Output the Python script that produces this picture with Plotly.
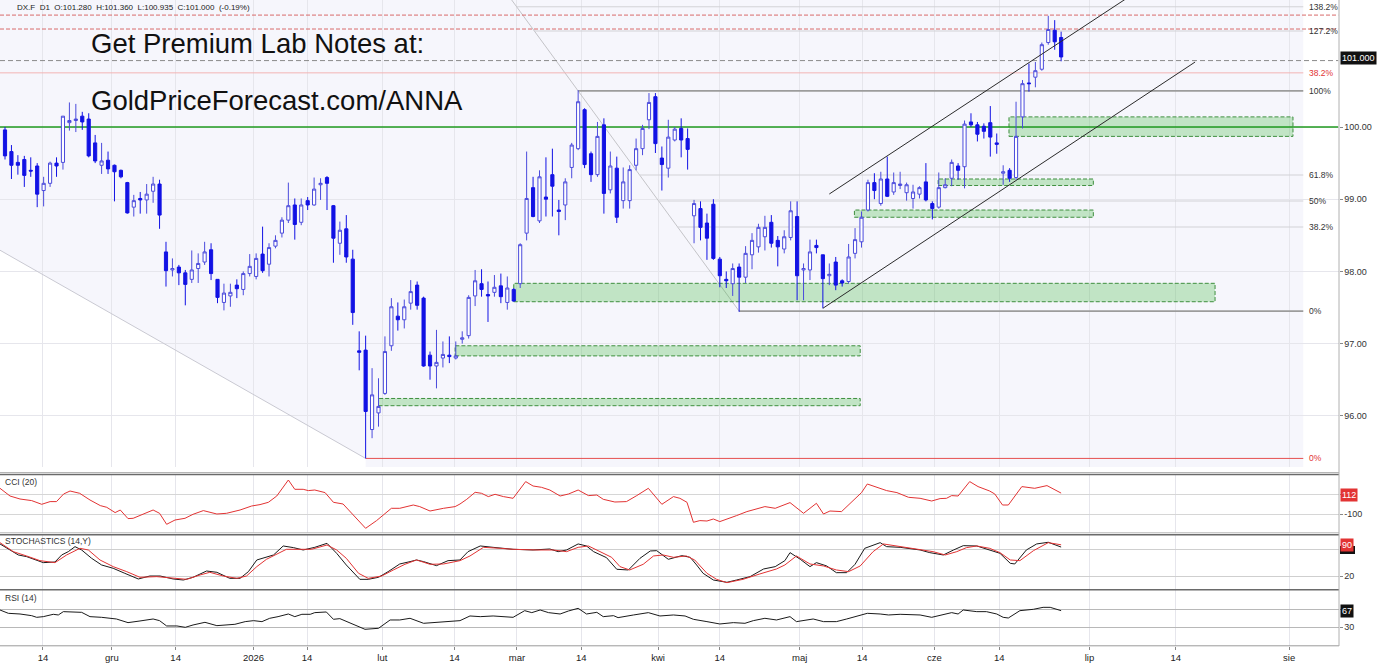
import plotly.graph_objects as go

W, H = 1387, 663

# ---------------- price data (DX.F, D1) ----------------
opens = [99.96, 99.66, 99.51, 99.55, 99.40, 99.46, 99.12, 99.22, 99.50, 99.51,
         100.06, 100.09, 100.15, 100.11, 99.78, 99.47, 99.54, 99.47, 99.40, 99.23,
         98.89, 99.01, 98.99, 99.11, 99.21, 98.27, 98.02, 98.06, 97.98, 97.89,
         98.04, 98.13, 98.30, 97.89, 97.57, 97.66, 97.81, 97.75, 97.97, 97.93,
         98.24, 98.10, 98.35, 98.53, 98.71, 98.92, 98.68, 98.98, 98.92, 99.20,
         99.30, 98.91, 98.39, 98.59, 98.17, 96.90, 96.91, 95.81, 96.04, 96.31,
         96.97, 97.38, 97.33, 97.56, 97.81, 97.63, 96.84, 96.69, 96.80, 96.84,
         96.80, 97.06, 97.11, 97.66, 97.83, 97.68, 97.71, 97.80, 97.57, 97.75,
         97.83, 98.53, 99.16, 98.70, 99.03, 99.34, 98.85, 98.92, 99.44, 99.70,
         100.24, 99.63, 99.34, 100.03, 99.13, 99.43, 98.98, 98.98, 99.47, 99.70,
         100.10, 100.42, 99.57, 99.43, 99.82, 99.98, 99.84, 98.77, 98.87, 98.67,
         98.93, 98.17, 97.89, 97.83, 98.06, 97.92, 98.23, 98.34, 98.48, 98.68,
         98.43, 98.31, 98.47, 98.76, 98.02, 98.02, 98.36, 98.23, 97.94, 98.13,
         97.87, 97.86, 98.25, 98.41, 98.85, 99.23, 98.94, 99.28, 99.10, 99.19,
         99.09, 99.01, 99.07, 99.24, 98.94, 98.89, 99.16, 99.29, 99.46, 99.45,
         100.07, 100.03, 100.01, 100.06, 99.78, 99.36, 99.40, 99.30, 100.14, 100.61,
         100.69, 100.80, 101.17, 101.34, 101.24]
highs = [100.00, 99.75, 99.61, 99.60, 99.58, 99.50, 99.31, 99.52, 99.58, 100.15,
         100.34, 100.32, 100.21, 100.19, 99.89, 99.78, 99.66, 99.48, 99.41, 99.24,
         99.06, 99.10, 99.21, 99.31, 99.27, 98.41, 98.18, 98.09, 98.02, 98.29,
         98.25, 98.41, 98.39, 97.89, 97.83, 97.83, 97.89, 98.00, 98.24, 98.25,
         98.62, 98.39, 98.50, 98.75, 99.23, 99.01, 99.01, 99.03, 99.30, 99.29,
         99.32, 98.92, 98.69, 98.78, 98.30, 97.17, 97.11, 96.66, 96.52, 97.10,
         97.63, 97.57, 97.61, 97.88, 97.86, 97.65, 96.89, 97.19, 97.03, 97.10,
         97.03, 97.17, 97.67, 98.02, 98.03, 97.86, 97.95, 97.97, 97.93, 97.77,
         98.39, 99.66, 99.31, 99.40, 99.58, 99.70, 98.99, 99.29, 99.78, 100.51,
         100.26, 99.66, 100.07, 100.12, 99.66, 99.59, 99.44, 99.47, 99.84, 100.03,
         100.47, 100.47, 99.73, 100.10, 100.00, 100.12, 99.98, 98.99, 98.97, 98.80,
         99.00, 98.20, 98.00, 98.11, 98.11, 98.35, 98.53, 98.66, 98.77, 98.78,
         98.49, 98.57, 98.97, 98.97, 98.11, 98.44, 98.44, 98.23, 98.11, 98.20,
         97.89, 98.38, 98.60, 98.83, 99.27, 99.36, 99.38, 99.59, 99.37, 99.38,
         99.23, 99.20, 99.18, 99.50, 98.97, 99.37, 99.29, 99.55, 99.50, 100.09,
         100.19, 100.07, 100.05, 100.29, 99.91, 99.47, 99.43, 100.35, 100.65, 100.88,
         100.90, 101.17, 101.54, 101.48, 101.32]
lows = [99.55, 99.28, 99.34, 99.17, 99.31, 98.89, 98.90, 99.17, 99.31, 99.41,
        99.95, 99.93, 99.96, 99.58, 99.50, 99.35, 99.35, 98.97, 99.29, 98.80,
        98.76, 98.80, 98.80, 98.95, 98.59, 97.79, 97.93, 97.81, 97.53, 97.84,
        97.84, 98.09, 97.88, 97.56, 97.46, 97.51, 97.63, 97.67, 97.93, 97.89,
        97.98, 97.93, 98.32, 98.47, 98.67, 98.44, 98.64, 98.85, 98.91, 98.99,
        98.85, 98.12, 98.23, 98.12, 97.26, 96.63, 95.41, 95.69, 95.85, 96.29,
        96.90, 97.18, 97.21, 97.47, 97.47, 96.68, 96.50, 96.38, 96.67, 96.73,
        96.78, 97.00, 97.07, 97.52, 97.65, 97.30, 97.65, 97.56, 97.47, 97.58,
        97.77, 98.43, 98.75, 98.67, 98.76, 98.76, 98.50, 98.71, 99.29, 99.68,
        99.43, 99.24, 99.31, 98.80, 99.08, 98.67, 98.87, 98.87, 99.40, 99.61,
        99.97, 99.64, 99.12, 99.30, 99.80, 99.58, 99.41, 98.39, 98.43, 98.16,
        98.16, 97.78, 97.77, 97.66, 97.44, 97.84, 98.03, 98.26, 98.29, 98.33,
        98.07, 98.25, 98.43, 97.60, 97.60, 97.88, 98.25, 97.49, 97.81, 97.74,
        97.79, 97.83, 98.18, 98.33, 98.83, 99.00, 98.91, 99.03, 99.06, 99.14,
        98.98, 98.87, 99.01, 98.97, 98.72, 98.87, 99.15, 99.18, 99.27, 99.15,
        100.00, 99.80, 99.84, 99.59, 99.63, 99.20, 99.24, 99.27, 99.98, 100.49,
        100.55, 100.78, 101.14, 101.07, 100.91]
closes = [99.60, 99.47, 99.47, 99.33, 99.39, 99.07, 99.22, 99.50, 99.46, 100.15,
          100.09, 100.11, 100.07, 99.60, 99.53, 99.53, 99.42, 99.38, 99.31, 98.81,
          98.98, 98.99, 99.07, 99.21, 98.78, 98.01, 98.04, 97.98, 97.82, 98.02,
          98.11, 98.27, 97.97, 97.64, 97.70, 97.71, 97.76, 97.97, 98.07, 98.18,
          98.01, 98.33, 98.43, 98.71, 98.91, 98.65, 98.92, 98.92, 99.14, 99.22,
          99.22, 98.46, 98.57, 98.20, 97.43, 96.88, 96.06, 96.29, 96.13, 96.89,
          97.51, 97.33, 97.51, 97.72, 97.53, 96.69, 96.69, 96.74, 96.85, 96.82,
          96.83, 97.08, 97.64, 97.87, 97.75, 97.66, 97.78, 97.65, 97.77, 97.59,
          98.37, 99.01, 98.76, 99.31, 99.00, 99.18, 98.83, 99.24, 99.75, 100.35,
          99.48, 99.34, 99.87, 99.08, 99.46, 98.75, 99.24, 99.41, 99.70, 99.98,
          100.34, 99.77, 99.48, 99.86, 99.97, 99.82, 99.69, 98.94, 98.61, 98.46,
          98.18, 97.94, 97.87, 98.04, 97.92, 98.25, 98.43, 98.61, 98.61, 98.39,
          98.34, 98.48, 98.84, 97.94, 98.04, 98.27, 98.33, 97.90, 97.96, 97.81,
          97.84, 98.20, 98.44, 98.75, 99.23, 99.12, 99.28, 99.04, 99.23, 99.21,
          99.20, 99.10, 99.16, 98.99, 98.87, 99.16, 99.20, 99.51, 99.40, 100.04,
          100.03, 99.90, 99.94, 99.86, 99.76, 99.38, 99.29, 99.87, 100.60, 100.60,
          100.78, 101.14, 101.35, 101.18, 100.97]
bar_index = list(range(len(opens)))

header_text = "DX.F  D1  O:101.280  H:101.360  L:100.935  C:101.000  (-0.19%)"
promo_lines = ["Get Premium Lab Notes at:", "GoldPriceForecast.com/ANNA"]

# time axis ticks (bar-index positions; later ones fall in the empty future area)
tick_pos = [5.9, 16.6, 26.5, 38.6, 46.9, 58.6, 69.8, 79.5, 89.5, 101.4,
            111.0, 123.4, 133.1, 144.3, 154.4, 168.4, 181.8, 199.4]
tick_text = ["14", "gru", "14", "2026", "14", "lut", "14", "mar", "14", "kwi",
             "14", "maj", "14", "cze", "14", "lip", "14", "sie"]
price_ticks = [96, 97, 98, 99, 100]
price_tick_text = ["96.00", "97.00", "98.00", "99.00", "100.00"]

# Fibonacci retracement (grey) between swing high and swing low
fib_hi, fib_hi_idx = 100.50, 89
fib_lo, fib_lo_idx = 97.45, 114
fib_ratios = [0.0, 0.382, 0.5, 0.618, 1.0, 1.272, 1.382]
fib_labels = ["0%", "38.2%", "50%", "61.8%", "100%", "127.2%", "138.2%"]
fib_end_idx = 201.6

# red (long-term) Fibonacci levels
red_fib_levels = [95.41, 100.75]
red_fib_labels = ["0%", "38.2%"]
red_fib_start = [56, -1]
red_trend = [(-20, 99.27), (56, 95.41)]

red_dashed_levels = [101.55, 101.357]
support_level = 100.00
last_level = 100.92
last_label = "101.000"

# green support / resistance zones
zone_x0 = [155.9, 144.9, 131.9, 79.0, 69.9, 58.0]
zone_x1 = [200.0, 169.0, 169.0, 187.9, 132.8, 132.8]
zone_lo = [99.87, 99.19, 98.75, 97.58, 96.83, 96.14]
zone_hi = [100.14, 99.28, 98.85, 97.835, 96.97, 96.24]

# rising trend channel
channel_lower = ([127, 184.8], [97.489, 100.90])
channel_upper = ([128, 177.8], [99.072, 101.995])

# ---------------- indicators ----------------
cci_x = [-0.78, 0.78, 2.33, 4.14, 5.7, 7.0, 8.0, 9.1, 10.1, 11.6, 13.2, 14.8, 15.8, 17.1, 17.9,
         19.1, 19.9, 21.5, 23.0, 24.0, 25.1, 26.4, 27.95, 29.2, 30.8, 32.9, 34.4, 36.5, 38.3,
         39.6, 40.9, 42.2, 44.0, 45.0, 46.3, 47.1, 48.1, 49.7, 51.0, 52.5, 54.6, 56.0, 57.7,
         59.3, 60.0, 61.3, 63.4, 64.4, 66.0, 68.1, 69.9,
         70.65, 71.7, 73.0, 74.0, 75.05, 76.1, 77.4, 78.9, 80.85, 82.0, 83.3, 84.6, 86.2, 87.5,
         89.0, 90.6, 91.9, 92.9, 94.7, 96.5, 98.1, 99.9, 102.0, 103.8, 104.8, 105.9, 106.9,
         107.9, 109.0, 110.0, 111.0, 112.1, 113.6, 115.2, 116.7, 118.0, 119.6, 121.9, 124.0,
         126.0, 127.1, 128.1, 129.9, 131.7, 133.0, 133.9, 135.4, 136.9, 138.5, 140.3, 142.1,
         143.9, 145.2, 146.2, 147.0, 148.0, 149.8, 151.1, 152.9, 153.7, 154.9, 155.8, 157.9,
         159.9, 161.8, 164.0]
cci_v = [160, 83, 53, 37, 0, 27, 27, 103, 133, 110, 43, -13, -30, -83, -57, -143, -140, -100,
         -57, -90, -200, -157, -140, -100, -63, -97, -90, -57, -17, -3, 20, 83, 243, 150, 150,
         137, 143, 117, 20, 3, -140, -240, -163, -80, -40, -40, -7, -23, -67, -40, -23,
         3, 50, 120, 110, 77, 100, 77, 60, 227, 183, 170, 143, 83, 103, 143, 87, 93, 50, 23,
         27, 87, 160, 0, 77, 60, 20, -180, -163, -167, -147, -173, -150, -113, -73, -50, -23,
         -40, 17, -90, 10, -97, -67, -73, 43, 117, 203, 170, 137, 117, 70, 60,
         33, 57, 60, 87, 83, 227, 177, 133, 103, -7, -7, 177, 160, 187, 112]
cci_last = "112"

stoch_k_x = [-0.78, 0.77, 2.07, 3.36, 4.66, 5.95, 7.76, 8.8, 9.83, 10.87, 11.9, 13.45, 15.0,
             16.8, 18.6, 20.7, 22.5, 24.1, 26.1, 27.7, 29.2, 31.3, 32.9, 34.9, 36.5, 37.8,
             39.1, 40.6, 41.7, 43.2, 44.8, 46.3, 48.1, 50.0, 51.5, 53.0, 55.1, 56.4, 58.0,
             59.5, 61.3, 62.9, 63.9, 65.0, 67.0, 68.8, 70.65,
             71.9, 73.8, 75.8, 78.9, 82.0, 84.6, 85.9, 87.2, 89.0, 90.3, 91.4, 93.4, 95.0, 96.8,
             98.6, 100.2, 101.2, 103.0, 105.1, 106.4, 107.4, 108.4, 110.0, 112.1, 113.6, 115.7,
             117.8, 119.6, 121.1, 121.9, 123.5, 125.0, 126.0, 127.6, 129.1, 130.7, 132.0,
             133.5, 135.9, 136.9, 139.0, 142.1,
             143.6, 145.7, 147.3, 148.8, 150.9, 152.9, 154.5, 156.1, 156.8, 158.6, 160.2,
             162.0, 164.0]
stoch_k_v = [91.9, 78.5, 67.4, 63.7, 56.3, 50.4, 51.8, 67.4, 74.8, 85.9, 78.5, 60, 45.2, 37.8,
             26.7, 14.1, 20.7, 20.7, 14.1, 11.8, 17.8, 31.8, 28.9, 15.5, 15.5, 30.4, 56.3, 63.7,
             67.4, 87.4, 83.7, 78.5, 84.4, 93.3, 71.1, 45.2, 13.3, 13.3, 17.8, 30.4, 47.4, 52.6,
             56.3, 52.6, 43.7, 54.8, 56.3,
             74.8, 87.4, 84.4, 80, 78.5, 80.7, 74.8, 78.5, 91.9, 87.4, 74.8, 61.5, 35.6, 34.1, 60,
             76.3, 77.0, 57.8, 65.9, 62.2, 45.2, 26.7, 11.8, 6.7, 11.8, 19.3, 36.3, 41.5, 54.8,
             72.6, 57.8, 41.5, 50.4, 43.0, 28.1, 28.1, 46.7, 82.2, 94.8, 85.9, 84.4, 78.5,
             72.6, 67.4, 78.5, 88.1, 87.4, 78.5, 71.1, 48.9, 47.4, 78.5, 91.9, 95.6, 85]
stoch_d_x = [-0.78, 1.29, 3.36, 5.43, 7.76, 9.57, 11.64, 12.94, 14.75, 16.8, 18.9, 20.96, 23.55,
             26.1, 28.2, 30.3, 31.8, 33.9, 36.0, 37.5, 39.1, 40.6, 42.2, 43.7, 45.8, 47.6, 50.0,
             51.5, 53.0, 54.9, 56.4, 58.5, 60.3, 62.1, 63.9, 66.0, 68.1, 70.65,
             72.2, 74.3, 76.9, 78.9, 82.6, 85.1, 87.2, 89.0, 90.6, 92.4, 94.2, 95.5, 97.0, 99.1,
             100.7, 102.2, 103.8, 105.8, 107.1, 109.0, 110.5, 112.1, 114.6, 117.2, 119.8, 121.1,
             122.9, 125.0, 127.1, 129.1, 131.0, 132.8, 134.8, 136.4, 138.5, 142.1,
             144.1, 146.0, 147.8, 149.3, 150.9, 152.9, 154.5, 156.1, 157.6, 159.7, 162.0, 164.0]
stoch_d_v = [94.8, 74.8, 65.2, 54.8, 50.4, 67.4, 82.2, 78.5, 56.3, 41.5, 30.4, 17.8, 19.3, 15.5,
             13.3, 23.0, 28.9, 20.7, 15.5, 20.7, 41.5, 57.8, 68.9, 80, 80, 80, 89.6, 78.5, 60,
             26.7, 15.5, 20.7, 34.1, 46.7, 56.3, 46.7, 47.4, 54.8,
             65.2, 84.4, 82.2, 80, 78.5, 78.5, 74.8, 84.4, 87.4, 74.8, 62.2, 41.5, 34.1, 46.7,
             65.2, 67.4, 62.2, 65.2, 56.3, 26.7, 13.3, 5.9, 13.3, 25.2, 36.3, 45.2, 65.2, 47.4,
             43.0, 34.1, 30.4, 43.0, 74.8, 91.9, 87.4, 78.5,
             74.8, 67.4, 74.8, 83.7, 87.4, 82.2, 72.6, 56.3, 54.8, 77.0, 94.8, 90]
stoch_d_last = "90"

rsi_x = [-0.78, 0.52, 2.33, 4.14, 4.92, 5.95, 7.5, 8.28, 9.06, 10.6, 11.9, 13.2, 15.0, 17.3,
         19.1, 20.96, 23.0, 24.0, 25.1, 26.7, 28.0, 29.2, 31.05, 32.9, 35.7, 37.3, 38.6, 39.9,
         41.1, 42.4, 44.0, 45.0, 46.1, 47.4, 48.1, 49.9, 51.0, 52.0, 54.1, 55.9, 58.0, 59.8,
         61.3, 62.9, 65.0, 67.0, 69.1, 70.65,
         72.2, 73.8, 75.8, 77.4, 78.9, 80.7, 81.8, 83.1, 84.4, 86.2, 87.5, 89.0, 90.3, 91.9,
         92.9, 94.5, 95.2, 97.6, 99.9, 101.7, 103.8, 105.6, 106.9, 109.0, 111.0, 113.1, 114.9,
         116.2, 118.0, 119.8, 121.9, 122.9, 125.5, 127.1, 129.1, 130.7, 132.8, 133.9, 135.9,
         137.2, 139.0, 142.1,
         143.9, 145.4, 147.0, 148.0, 148.8, 150.9, 152.4, 154.0, 155.0, 155.8, 157.6, 159.7,
         161.2, 162.3, 164.0]
rsi_v = [68.5, 61.1, 59.6, 55.9, 52.2, 53.7, 58.9, 57.4, 64.8, 64.8, 63.3, 53.7, 52.2, 48.5,
         40.4, 44.1, 48.5, 44.8, 33.0, 33.0, 30.0, 35.2, 41.1, 33.7, 36.7, 42.6, 44.8, 42.6,
         50.0, 53.7, 59.6, 53.7, 58.9, 58.9, 62.6, 64.1, 47.8, 49.3, 37.4, 25.6, 27.8, 46.3,
         46.3, 50.0, 38.9, 41.1, 41.9, 44.8,
         55.2, 53.7, 55.2, 53.7, 52.2, 67.0, 62.6, 68.5, 62.6, 59.6, 66.3, 72.2, 59.6, 63.3,
         53.7, 55.9, 51.5, 57.4, 62.6, 55.2, 57.4, 55.2, 47.8, 42.6, 37.4, 40.4, 38.9, 44.8,
         50.0, 46.3, 53.7, 42.6, 48.5, 42.6, 42.6, 48.5, 57.4, 61.1, 59.6, 57.4, 58.9, 57.4,
         52.2, 57.4, 62.6, 59.6, 68.5, 64.8, 64.8, 59.6, 52.2, 50.7, 67.0, 70.0, 74.4, 74.4, 67]
rsi_last = "67"

# ---------------- figure ----------------
def py(p):  # pixel row -> paper fraction
    return 1 - p / H

XD = [0, 1338.5 / W]
XR = [-0.776, 207.07]
FONT = "Liberation Sans, Arial, Helvetica, sans-serif"
BLUE_UP = "#4b4bdc"
BLUE_DN = "#1212e4"
RED = "#e23333"

fig = go.Figure()
fig.add_trace(go.Candlestick(
    x=bar_index, open=opens, high=highs, low=lows, close=closes,
    xaxis="x", yaxis="y", whiskerwidth=0,
    increasing=dict(line=dict(color=BLUE_UP, width=1), fillcolor="white"),
    decreasing=dict(line=dict(color=BLUE_DN, width=1), fillcolor=BLUE_DN),
    hoverinfo="skip"))
fig.add_trace(go.Scatter(x=cci_x, y=cci_v, mode="lines", line=dict(color=RED, width=1),
                         xaxis="x2", yaxis="y2"))
fig.add_trace(go.Scatter(x=stoch_k_x, y=stoch_k_v, mode="lines", line=dict(color="#1a1a1a", width=1),
                         xaxis="x3", yaxis="y3"))
fig.add_trace(go.Scatter(x=stoch_d_x, y=stoch_d_v, mode="lines", line=dict(color=RED, width=1),
                         xaxis="x3", yaxis="y3"))
fig.add_trace(go.Scatter(x=rsi_x, y=rsi_v, mode="lines", line=dict(color="#1a1a1a", width=1),
                         xaxis="x4", yaxis="y4"))

GRID = "#e6e6ec"
xcommon = dict(domain=XD, range=XR, tickvals=tick_pos, ticktext=tick_text, showgrid=True,
               gridcolor=GRID, gridwidth=1, zeroline=False, showline=False, fixedrange=True)
layout = dict(
    width=W, height=H, margin=dict(l=0, r=0, t=0, b=0), autosize=False,
    paper_bgcolor="white", plot_bgcolor="white", showlegend=False,
    font=dict(family=FONT, size=9, color="#333"),
    xaxis=dict(xcommon, anchor="y", showticklabels=False, rangeslider=dict(visible=False)),
    xaxis2=dict(xcommon, anchor="y2", matches="x", showticklabels=False),
    xaxis3=dict(xcommon, anchor="y3", matches="x", showticklabels=False),
    xaxis4=dict(xcommon, anchor="y4", matches="x", showticklabels=True, ticks="outside",
                ticklen=3, tickcolor="#888", tickfont=dict(size=9.5, color="#222")),
    yaxis=dict(domain=[py(467), 1], range=[95.291, 101.759], side="right", anchor="x",
               tickvals=price_ticks, ticktext=price_tick_text, ticks="outside", ticklen=3,
               tickcolor="#888", showgrid=True, gridcolor=GRID, zeroline=False,
               tickfont=dict(size=9, color="#333"), fixedrange=True),
    yaxis2=dict(domain=[py(532.5), py(474.5)], range=[-282, 298], side="right", anchor="x2",
                tickvals=[100, -100], ticktext=["", "-100"], ticks="outside", ticklen=3,
                tickcolor="#888", showgrid=True, gridcolor="#d6d6d6", zeroline=False,
                tickfont=dict(size=9, color="#333"), fixedrange=True),
    yaxis3=dict(domain=[py(589.5), py(534.5)], range=[-9.3, 112.9], side="right", anchor="x3",
                tickvals=[80, 20], ticktext=["", "20"], ticks="outside", ticklen=3,
                tickcolor="#888", showgrid=True, gridcolor="#cfcfcf", zeroline=False,
                tickfont=dict(size=9, color="#333"), fixedrange=True),
    yaxis4=dict(domain=[py(645.5), py(590)], range=[-10.4, 112.9], side="right", anchor="x4",
                tickvals=[70, 30], ticktext=["", "30"], ticks="outside", ticklen=3,
                tickcolor="#888", showgrid=True, gridcolor="#b8b8b8", zeroline=False,
                tickfont=dict(size=9, color="#333"), fixedrange=True),
)
fig.update_layout(**layout)

shapes = []
# lavender background of the drawing-tool region, above the long red trend line
(rx0, ry0), (rx1, ry1) = red_trend
shapes.append(dict(type="path", xref="x", yref="y", layer="below", line=dict(width=0),
                   fillcolor="#f6f6fc",
                   path=f"M {rx0},{ry0} L {rx1},{ry1} L {rx1},94 L {fib_end_idx},94 "
                        f"L {fib_end_idx},103 L {rx0},103 Z"))
# long red trend line (clipped)
shapes.append(dict(type="line", xref="x", yref="y", layer="between", x0=rx0, y0=ry0, x1=rx1, y1=ry1,
                   line=dict(color="#c9c9d2", width=1)))
# grey fib trend line, extended upward
t0 = -1.0
shapes.append(dict(type="line", xref="x", yref="y", layer="between",
                   x0=fib_hi_idx + t0 * (fib_lo_idx - fib_hi_idx), y0=fib_hi + t0 * (fib_lo - fib_hi),
                   x1=fib_lo_idx, y1=fib_lo, line=dict(color="#c4c4c8", width=1)))
# grey fib levels
annotations = []
for r, lab in zip(fib_ratios, fib_labels):
    lvl = fib_lo + r * (fib_hi - fib_lo)
    start = fib_lo_idx + r * (fib_hi_idx - fib_lo_idx)
    strong = r in (0.0, 1.0)
    shapes.append(dict(type="line", xref="x", yref="y", layer="between", x0=start, x1=fib_end_idx,
                       y0=lvl, y1=lvl,
                       line=dict(color="#9c9c9c" if strong else "#d2d2d6", width=1.6 if strong else 1)))
    annotations.append(dict(xref="paper", yref="y", x=1306.5 / W, y=lvl, text=lab, showarrow=False,
                            xanchor="left", yanchor="middle", font=dict(size=8.5, color="#333")))
# red fib levels
for lvl, lab, st in zip(red_fib_levels, red_fib_labels, red_fib_start):
    shapes.append(dict(type="line", xref="x", yref="y", layer="between", x0=st, x1=fib_end_idx,
                       y0=lvl, y1=lvl,
                       line=dict(color="#e55050" if lab == "0%" else "#f3b4b4", width=1)))
    annotations.append(dict(xref="paper", yref="y", x=1306.5 / W, y=lvl, text=lab, showarrow=False,
                            xanchor="left", yanchor="middle", font=dict(size=8.5, color=RED)))
# red dashed resistance lines
for lvl in red_dashed_levels:
    shapes.append(dict(type="line", xref="x", yref="y", layer="between", x0=XR[0], x1=XR[1],
                       y0=lvl, y1=lvl, line=dict(color="#d86a6a", width=1, dash="4px,2px")))
# green zones
for x0, x1, lo, hi in zip(zone_x0, zone_x1, zone_lo, zone_hi):
    shapes.append(dict(type="rect", xref="x", yref="y", layer="between", x0=x0, x1=x1, y0=lo, y1=hi,
                       fillcolor="rgba(70,185,70,0.30)",
                       line=dict(color="#3f8f3f", width=1, dash="4px,2px")))
# 100.00 support line
shapes.append(dict(type="line", xref="x", yref="y", layer="between", x0=XR[0], x1=XR[1],
                   y0=support_level, y1=support_level, line=dict(color="#1f9a1f", width=1.6)))
# current price line
shapes.append(dict(type="line", xref="x", yref="y", layer="between", x0=XR[0], x1=XR[1],
                   y0=last_level, y1=last_level, line=dict(color="#8a8a8a", width=1, dash="5px,3px")))
# trend channel
for xs, ys in (channel_lower, channel_upper):
    shapes.append(dict(type="line", xref="x", yref="y", layer="above", x0=xs[0], y0=ys[0],
                       x1=xs[1], y1=ys[1], line=dict(color="#2a2a2a", width=1)))
# panel frames
for yy, col, wd in [(472.5, "#b5b5b5", 1), (474.5, "#6a6a6a", 1.5), (532.8, "#b5b5b5", 1),
                    (534.8, "#6a6a6a", 1.5), (589.8, "#6a6a6a", 1.5), (645.8, "#9a9a9a", 1)]:
    shapes.append(dict(type="line", xref="paper", yref="paper", x0=0, x1=1339 / W,
                       y0=py(yy), y1=py(yy), line=dict(color=col, width=wd)))
shapes.append(dict(type="line", xref="paper", yref="paper", x0=1339 / W, x1=1339 / W,
                   y0=py(646), y1=1, line=dict(color="#b0b0b0", width=1)))
# %K value marker, mostly hidden under the %D value box
shapes.append(dict(type="rect", xref="paper", yref="paper", x0=1340 / W, x1=1355 / W,
                   y0=py(554), y1=py(546), fillcolor="#111", line=dict(width=0)))
fig.update_layout(shapes=shapes)

# texts
annotations.append(dict(xref="paper", yref="paper", x=15 / W, y=py(7.5), text=header_text,
                        showarrow=False, xanchor="left", yanchor="middle",
                        font=dict(size=8, color="#222")))
for txt, cy in zip(promo_lines, [44, 100]):
    annotations.append(dict(xref="paper", yref="paper", x=89 / W, y=py(cy), text=txt,
                            showarrow=False, xanchor="left", yanchor="middle",
                            font=dict(size=27.5, color="#111", family=FONT)))
for txt, cy in zip(["CCI (20)", "STOCHASTICS (14,Y)", "RSI (14)"], [482, 541, 597.5]):
    annotations.append(dict(xref="paper", yref="paper", x=3 / W, y=py(cy), text=txt,
                            showarrow=False, xanchor="left", yanchor="middle",
                            font=dict(size=8.5, color="#333")))
# value boxes on the right axis
def box(text, yref, yv, bg, shift=0):
    return dict(xref="paper", yref=yref, x=1340 / W, y=yv, text=text, showarrow=False,
                xanchor="left", yanchor="middle", bgcolor=bg, borderpad=1, yshift=shift,
                font=dict(size=9, color="white"))
annotations.append(box(last_label, "y", last_level, "#111", 3))
annotations.append(box(cci_last, "y2", 98, RED))
annotations.append(box(stoch_d_last, "y3", 89, RED))
annotations.append(box(rsi_last, "y4", 66, "#111"))
fig.update_layout(annotations=annotations)

fig.write_html("out.html")
